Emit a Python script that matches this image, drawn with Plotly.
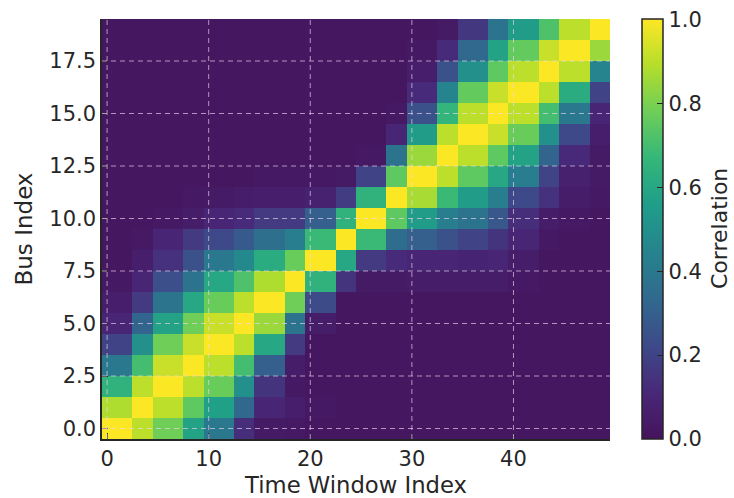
import numpy as np
import plotly.graph_objects as go

# Each row: 20 block values (bus index = row number)
row_00 = [1.00,.90,.78,.58,.40,.13,.04,.03,.02,.02,.02,.02,.02,.02,.02,.02,.02,.02,.02,.02]
row_01 = [.88,1.00,.90,.75,.57,.33,.10,.06,.03,.02,.02,.02,.02,.02,.02,.02,.02,.02,.02,.02]
row_02 = [.65,.90,1.00,.90,.77,.50,.15,.03,.02,.02,.02,.02,.02,.02,.02,.02,.02,.02,.02,.02]
row_03 = [.40,.70,.92,1.00,.90,.70,.30,.05,.02,.02,.02,.02,.02,.02,.02,.02,.02,.02,.02,.02]
row_04 = [.20,.50,.78,.92,1.00,.90,.60,.17,.02,.02,.02,.02,.02,.02,.02,.02,.02,.02,.02,.02]
row_05 = [.10,.32,.58,.78,.92,1.00,.85,.38,.05,.02,.02,.02,.02,.02,.02,.02,.02,.02,.02,.02]
row_06 = [.06,.17,.38,.60,.77,.90,1.00,.78,.23,.02,.02,.02,.02,.02,.02,.02,.02,.02,.02,.02]
row_07 = [.03,.10,.24,.38,.60,.72,.88,1.00,.65,.15,.04,.04,.05,.05,.05,.05,.03,.02,.02,.02]
row_08 = [.02,.06,.14,.25,.40,.47,.62,.77,1.00,.60,.17,.12,.10,.10,.09,.10,.05,.02,.02,.02]
row_09 = [.02,.03,.10,.17,.22,.28,.36,.42,.68,1.00,.68,.35,.30,.25,.20,.15,.10,.03,.02,.02]
row_10 = [.02,.02,.03,.05,.10,.12,.17,.17,.30,.65,1.00,.75,.55,.42,.38,.27,.13,.05,.03,.02]
row_11 = [.02,.02,.02,.03,.04,.05,.06,.06,.08,.18,.65,1.00,.87,.68,.55,.42,.22,.14,.05,.03]
row_12 = [.02,.02,.02,.02,.02,.02,.03,.03,.03,.04,.20,.75,1.00,.90,.75,.60,.42,.20,.07,.04]
row_13 = [.02,.02,.02,.02,.02,.02,.02,.02,.02,.02,.03,.38,.85,1.00,.90,.75,.58,.32,.11,.04]
row_14 = [.02,.02,.02,.02,.02,.02,.02,.02,.02,.02,.02,.10,.55,.90,1.00,.92,.77,.50,.22,.06]
row_15 = [.02,.02,.02,.02,.02,.02,.02,.02,.02,.02,.02,.03,.25,.66,.90,1.00,.90,.70,.40,.10]
row_16 = [.02,.02,.02,.02,.02,.02,.02,.02,.02,.02,.02,.02,.12,.45,.76,.92,1.00,.90,.62,.20]
row_17 = [.02,.02,.02,.02,.02,.02,.02,.02,.02,.02,.02,.02,.06,.25,.50,.75,.90,1.00,.90,.45]
row_18 = [.02,.02,.02,.02,.02,.02,.02,.02,.02,.02,.02,.02,.03,.12,.33,.58,.76,.92,1.00,.85]
row_19 = [.02,.02,.02,.02,.02,.02,.02,.02,.02,.02,.02,.02,.02,.04,.16,.38,.55,.72,.90,1.00]

rows = [row_00,row_01,row_02,row_03,row_04,row_05,row_06,row_07,row_08,row_09,
        row_10,row_11,row_12,row_13,row_14,row_15,row_16,row_17,row_18,row_19]
block_columns = [3,2]*10   # time windows covered by each block

x_ticks = [0,10,20,30,40]
y_ticks = [0,2.5,5,7.5,10,12.5,15,17.5]
y_labels = ["0.0","2.5","5.0","7.5","10.0","12.5","15.0","17.5"]
cbar_ticks = [0,.2,.4,.6,.8,1.0]
cbar_labels = ["0.0","0.2","0.4","0.6","0.8","1.0"]

z = np.repeat(np.array(rows), block_columns, axis=1)
FONT = "DejaVu Sans"
INK = "#262626"
SCALE = [[0,"#45135c"],[.11,"#482878"],[.22,"#3e4989"],[.33,"#31688e"],[.44,"#26828e"],
         [.56,"#1f9e89"],[.67,"#35b779"],[.78,"#6ece58"],[.89,"#b5de2b"],[1,"#fde725"]]

fig = go.Figure(go.Heatmap(
    z=z, x=list(range(50)), y=list(range(20)),
    colorscale=SCALE, zmin=0, zmax=1.001,
    colorbar=dict(
        x=1.0635, xanchor="left", xpad=0, ypad=0, len=1, lenmode="fraction", y=0.5, yanchor="middle",
        thickness=21, thicknessmode="pixels", outlinewidth=1.5, outlinecolor=INK,
        tickmode="array", tickvals=cbar_ticks, ticktext=cbar_labels,
        ticks="inside", ticklen=6, tickcolor=INK, tickwidth=1,
        tickfont=dict(family=FONT, size=21, color=INK),
    ),
))

grid = dict(color="rgba(240,215,240,0.65)", width=1, dash="5px,4px")
for v in x_ticks:
    fig.add_shape(type="line", xref="x", yref="paper", x0=v, x1=v, y0=0, y1=1, line=grid)
for v in y_ticks:
    fig.add_shape(type="line", xref="paper", yref="y", x0=0, x1=1, y0=v, y1=v, line=grid)

fig.add_annotation(text="Correlation", xref="paper", yref="paper", x=1.0, y=0.5,
                   xanchor="center", yanchor="middle", xshift=109, textangle=-90,
                   showarrow=False, font=dict(family=FONT, size=22, color=INK))

fig.update_layout(
    width=734, height=498, autosize=False,
    margin=dict(l=101.5, r=124, t=18.5, b=58.5),
    paper_bgcolor="white", plot_bgcolor="white",
    font=dict(family=FONT, color=INK),
    xaxis=dict(range=[-0.5,49.5], tickmode="array", tickvals=x_ticks, automargin=False,
               ticks="inside", ticklen=6, tickcolor=INK, showgrid=False, zeroline=False,
               showline=True, linecolor=INK, linewidth=1.5, layer="above traces",
               tickfont=dict(size=21, color=INK),
               title=dict(text="Time Window Index", font=dict(size=22.7, color=INK))),
    yaxis=dict(range=[-0.5,19.5], tickmode="array", tickvals=y_ticks, ticktext=y_labels, automargin=False,
               ticks="inside", ticklen=6, tickcolor=INK, showgrid=False, zeroline=False,
               showline=True, linecolor=INK, linewidth=1.5, layer="above traces",
               tickfont=dict(size=21, color=INK),
               title=dict(text="Bus Index", font=dict(size=23, color=INK), standoff=10)),
)
fig.write_html("out.html", config={"displayModeBar": False},
               post_script="document.body.style.margin='0';")
